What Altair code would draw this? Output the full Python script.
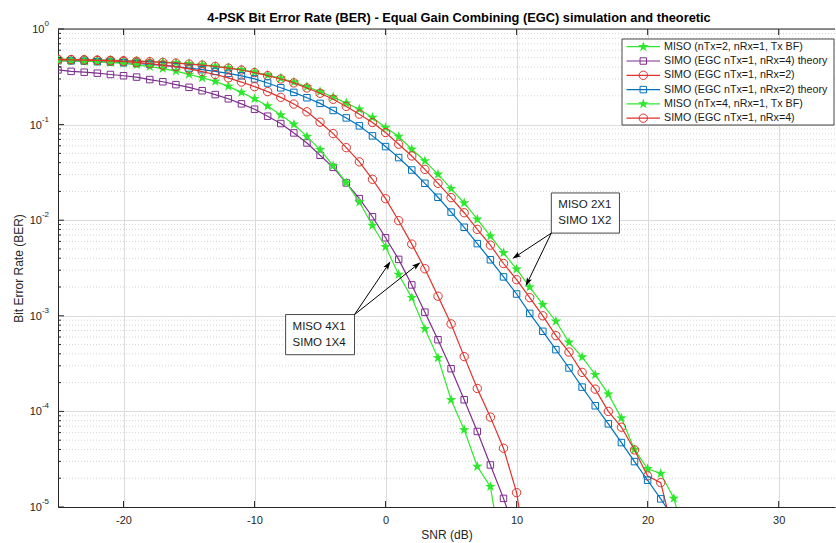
import math
import altair as alt
import pandas as pd

# ---------------------------------------------------------------- data
SNR_START = -25  # every series starts at -25 dB, one point per dB

# log10(BER)
miso_tx2 = [-0.316, -0.318, -0.320, -0.323, -0.326, -0.330, -0.335, -0.340, -0.347, -0.354,
            -0.364, -0.375, -0.389, -0.406, -0.426, -0.451, -0.481, -0.515, -0.555, -0.604,
            -0.655, -0.712, -0.775, -0.839, -0.926, -1.031, -1.125, -1.258, -1.380, -1.520,
            -1.670, -1.820, -1.990, -2.166, -2.341, -2.512, -2.700, -2.883, -3.057, -3.277,
            -3.431, -3.616, -3.819, -4.070, -4.400, -4.600, -4.650, -4.910, -5.400]
simo_rx4_theory = [-0.428, -0.443, -0.452, -0.462, -0.476, -0.489, -0.503, -0.529, -0.552, -0.582,
                   -0.610, -0.646, -0.686, -0.730, -0.783, -0.839, -0.912, -0.989, -1.087, -1.192,
                   -1.321, -1.447, -1.610, -1.775, -1.964, -2.184, -2.410, -2.677, -2.962, -3.250,
                   -3.553, -3.878, -4.210, -4.560, -4.910, -5.300]
simo_rx2 = [-0.318, -0.320, -0.322, -0.325, -0.328, -0.332, -0.337, -0.342, -0.349, -0.357,
            -0.367, -0.378, -0.392, -0.409, -0.429, -0.456, -0.488, -0.523, -0.564, -0.617,
            -0.672, -0.735, -0.810, -0.891, -0.978, -1.083, -1.205, -1.328, -1.468, -1.614,
            -1.764, -1.922, -2.096, -2.261, -2.453, -2.622, -2.810, -3.000, -3.208, -3.379,
            -3.592, -3.767, -4.000, -4.165, -4.403, -4.675, -4.745, -5.300]
simo_rx2_theory = [-0.330, -0.333, -0.337, -0.342, -0.347, -0.353, -0.361, -0.370, -0.381, -0.394,
                   -0.409, -0.425, -0.444, -0.464, -0.490, -0.522, -0.565, -0.615, -0.663, -0.719,
                   -0.778, -0.852, -0.930, -1.013, -1.118, -1.230, -1.345, -1.475, -1.614, -1.760,
                   -1.915, -2.074, -2.245, -2.414, -2.593, -2.772, -2.975, -3.162, -3.354, -3.546,
                   -3.746, -3.941, -4.130, -4.326, -4.525, -4.720, -4.915, -5.120]
miso_tx4 = [-0.330, -0.333, -0.337, -0.342, -0.350, -0.360, -0.375, -0.393, -0.415, -0.440,
            -0.475, -0.510, -0.548, -0.600, -0.663, -0.729, -0.805, -0.900, -0.997, -1.126,
            -1.262, -1.430, -1.607, -1.810, -2.055, -2.278, -2.568, -2.810, -3.137, -3.440,
            -3.878, -4.193, -4.577, -4.787, -5.600]
simo_rx4 = [-0.320, -0.322, -0.325, -0.329, -0.334, -0.341, -0.350, -0.362, -0.377, -0.394,
            -0.418, -0.446, -0.476, -0.512, -0.555, -0.603, -0.655, -0.715, -0.785, -0.866,
            -0.975, -1.094, -1.241, -1.390, -1.572, -1.775, -2.005, -2.250, -2.508, -2.795,
            -3.085, -3.427, -3.760, -4.060, -4.385, -4.850, -5.700]

series_names = ["MISO (nTx=2, nRx=1, Tx BF)",
                "SIMO (EGC nTx=1, nRx=4) theory",
                "SIMO (EGC nTx=1, nRx=2)",
                "SIMO (EGC nTx=1, nRx=2) theory",
                "MISO (nTx=4, nRx=1, Tx BF)",
                "SIMO (EGC nTx=1, nRx=4)"]
series_values = [miso_tx2, simo_rx4_theory, simo_rx2, simo_rx2_theory, miso_tx4, simo_rx4]

x_ticks = [-20, -10, 0, 10, 20, 30]
y_decade_exps = [0, -1, -2, -3, -4, -5]

annotation_labels = [["MISO 2X1", "SIMO 1X2"], ["MISO 4X1", "SIMO 1X4"]]
# (snr left, snr right, log10 BER top, log10 BER bottom)
annotation_boxes = [(12.65, 17.85, -1.715, -2.135), (-7.63, -2.37, -2.987, -3.407)]
# (start snr, start log10 BER, tip snr, tip log10 BER)
annotation_arrows = [(12.65, -2.135, 9.67, -2.404), (12.65, -2.135, 10.69, -2.691),
                     (-2.37, -2.987, 0.38, -2.429), (-2.37, -2.987, 2.67, -2.439)]

TITLE = "4-PSK Bit Error Rate (BER) - Equal Gain Combining (EGC) simulation and theoretic"

# ---------------------------------------------------------------- style / layout
FONT = "Liberation Sans"
GREEN, RED, PURPLE, BLUE = "#2ee82e", "#e0312b", "#7e2f8e", "#0072bd"
AX = "#262626"
series_colors = [GREEN, PURPLE, RED, BLUE, GREEN, RED]
series_shapes = ["star", "square", "circle", "square", "star", "circle"]


def star_path(r_in=0.40):
    pts = []
    for k in range(10):
        a = math.radians(-90 + 36 * k)
        r = 1.0 if k % 2 == 0 else r_in
        pts.append(f"{r * math.cos(a):.3f},{r * math.sin(a):.3f}")
    return "M" + "L".join(pts) + "Z"


STAR = star_path()
HEAD = "M0,-1L0.55,0.75L0,0.4L-0.55,0.75Z"

W, H = 777, 478
X0, X1 = -25.0, 34.3


def snr_to_px(s):
    return (s - X0) / (X1 - X0) * W


def px_to_snr(p):
    return X0 + p / W * (X1 - X0)


def exp_to_py(e):
    return -e / 5.0 * H


def py_to_ber(p):
    return 10 ** (-5.0 * p / H)


xscale = alt.Scale(domain=[X0, X1], nice=False, zero=False)
yscale = alt.Scale(type="log", domain=[1e-5, 1], nice=False)

x_axis = alt.Axis(values=x_ticks, labelExpr="toString(datum.value)", grid=True,
                  gridColor="#dcdcdc", gridWidth=1, ticks=False, domainColor=AX, domainWidth=1,
                  labelFont=FONT, labelFontSize=11, labelColor=AX, labelPadding=7,
                  title="SNR (dB)", titleFont=FONT, titleFontSize=12, titleFontWeight="normal",
                  titleColor=AX, titlePadding=4)
y_axis = alt.Axis(values=[10 ** e for e in y_decade_exps], grid=True, gridColor="#dcdcdc",
                  gridWidth=1, labels=False, ticks=False, domainColor=AX,
                  domainWidth=1, title="Bit Error Rate (BER)", titleFont=FONT, titleFontSize=12,
                  titleFontWeight="normal", titleColor=AX, titlePadding=33)


def X(field="snr"):
    return alt.X(f"{field}:Q", scale=xscale, axis=x_axis)


def Y(field="ber"):
    return alt.Y(f"{field}:Q", scale=yscale, axis=y_axis)


def marker(data, shape, col):
    if shape == "star":
        return alt.Chart(data).mark_point(shape=STAR, filled=True, color=col, size=120,
                                          opacity=1, clip=True)
    if shape == "circle":
        return alt.Chart(data).mark_point(shape="circle", filled=False, color=col, size=70,
                                          strokeWidth=1, opacity=1, clip=True)
    return alt.Chart(data).mark_point(shape="square", filled=False, color=col, size=42,
                                      strokeWidth=1, opacity=1, clip=True)


layers = []

# data series
for name, vals, col, shp in zip(series_names, series_values, series_colors, series_shapes):
    df = pd.DataFrame({"snr": [SNR_START + i for i in range(len(vals))],
                       "ber": [10 ** v for v in vals]})
    layers.append(alt.Chart(df).mark_line(color=col, strokeWidth=1.2, clip=True)
                  .encode(x=X(), y=Y()))
    pts = pd.DataFrame({"snr": [SNR_START + i for i, v in enumerate(vals) if v >= -5.0],
                        "ber": [10 ** v for v in vals if v >= -5.0]})
    layers.append(marker(pts, shp, col).encode(x=X(), y=Y()))

# minor log grid (dotted)
minor = [m * 10 ** e for e in range(-5, 0) for m in range(2, 10)]
minor_df = pd.DataFrame({"ber": minor})
grid_layer = alt.Chart(minor_df).mark_rule(color="#c8c8c8", strokeWidth=0.8,
                                           strokeDash=[1, 2]).encode(y=Y())

# annotation boxes and texts
box_rows, txt_rows = [], []
for (x0, x1, e0, e1), lines in zip(annotation_boxes, annotation_labels):
    box_rows.append({"snr": x0, "snr2": x1, "ber": 10 ** e0, "ber2": 10 ** e1})
    left_px = snr_to_px(x0) + 7
    top_py = exp_to_py(e0)
    for k, t in enumerate(lines):
        txt_rows.append({"snr": px_to_snr(left_px), "ber": py_to_ber(top_py + 12 + 16 * k),
                         "t": t})
layers.append(alt.Chart(pd.DataFrame(box_rows)).mark_rect(fill="white", stroke="#333333",
                                                          strokeWidth=0.9)
              .encode(x=X(), x2=alt.X2("snr2"), y=Y(), y2=alt.Y2("ber2")))
layers.append(alt.Chart(pd.DataFrame(txt_rows)).mark_text(align="left", baseline="middle",
                                                          font=FONT, fontSize=11.5,
                                                          color="#1a1a1a")
              .encode(x=X(), y=Y(), text="t:N"))

# arrows
HEAD_SIZE = 100
back = 0.5 * math.sqrt(HEAD_SIZE)
line_rows = []
for sx, se, tx, te in annotation_arrows:
    sxp, syp = snr_to_px(sx), exp_to_py(se)
    txp, typ = snr_to_px(tx), exp_to_py(te)
    dx, dy = txp - sxp, typ - syp
    n = math.hypot(dx, dy)
    ux, uy = dx / n, dy / n
    cxp, cyp = txp - back * ux, typ - back * uy
    ang = math.degrees(math.atan2(ux, -uy)) % 360
    line_rows.append({"snr": sx, "ber": 10 ** se, "snr2": px_to_snr(cxp),
                      "ber2": py_to_ber(cyp)})
    head = pd.DataFrame([{"snr": px_to_snr(cxp), "ber": py_to_ber(cyp)}])
    layers.append(alt.Chart(head).mark_point(shape=HEAD, filled=True, color="black",
                                             size=HEAD_SIZE, angle=round(ang, 2), opacity=1)
                  .encode(x=X(), y=Y()))
layers.append(alt.Chart(pd.DataFrame(line_rows)).mark_rule(color="black", strokeWidth=1)
              .encode(x=X(), x2=alt.X2("snr2"), y=Y(), y2=alt.Y2("ber2")))

# legend (inside the axes, top right)
LBOX = (564, 776, 10, 96)
layers.append(alt.Chart(pd.DataFrame([{"snr": px_to_snr(LBOX[0]), "snr2": px_to_snr(LBOX[1]),
                                       "ber": py_to_ber(LBOX[2]), "ber2": py_to_ber(LBOX[3])}]))
              .mark_rect(fill="white", stroke="#333333", strokeWidth=0.9)
              .encode(x=X(), x2=alt.X2("snr2"), y=Y(), y2=alt.Y2("ber2")))
for i, (name, col, shp) in enumerate(zip(series_names, series_colors, series_shapes)):
    ry = 17.7 + 14.3 * i
    row = pd.DataFrame([{"snr": px_to_snr(568.5), "snr2": px_to_snr(602),
                         "mid": px_to_snr(585.3), "tx": px_to_snr(606),
                         "ber": py_to_ber(ry), "t": name}])
    layers.append(alt.Chart(row).mark_rule(color=col, strokeWidth=1.2)
                  .encode(x=X(), x2=alt.X2("snr2"), y=Y()))
    layers.append(marker(row, shp, col).encode(x=X("mid"), y=Y()))
    layers.append(alt.Chart(row).mark_text(align="left", baseline="middle", font=FONT,
                                           fontSize=10.7, color="#1a1a1a")
                  .encode(x=X("tx"), y=Y(), text="t:N"))

# inward ticks and top frame
xt_df = pd.DataFrame({"snr": x_ticks})
layers.append(alt.Chart(xt_df).mark_rule(color=AX, strokeWidth=1)
              .encode(x=X(), y=alt.value(H), y2=alt.value(H - 6)))
layers.append(alt.Chart(xt_df).mark_rule(color=AX, strokeWidth=1)
              .encode(x=X(), y=alt.value(0), y2=alt.value(6)))
yt_df = pd.DataFrame({"ber": [10 ** e for e in y_decade_exps]})
layers.append(alt.Chart(yt_df).mark_rule(color=AX, strokeWidth=1)
              .encode(y=Y(), x=alt.value(0), x2=alt.value(6)))
layers.append(alt.Chart(minor_df).mark_rule(color=AX, strokeWidth=1)
              .encode(y=Y(), x=alt.value(0), x2=alt.value(3)))
top_df = pd.DataFrame({"ber": [1.0]})
layers.append(alt.Chart(top_df).mark_rule(color=AX, strokeWidth=1)
              .encode(y=Y(), x=alt.value(0), x2=alt.value(W)))

# y tick labels 10^k
zero_df = pd.DataFrame({"ber": [1.0], "base": ["10"]})
neg_df = pd.DataFrame({"ber": [10 ** e for e in y_decade_exps if e < 0],
                       "base": ["10"] * (len(y_decade_exps) - 1)})
sup_df = pd.DataFrame({"ber": [10 ** e for e in y_decade_exps],
                       "sup": [str(e) for e in y_decade_exps]})
layers.append(alt.Chart(zero_df)
              .mark_text(align="right", baseline="middle", font=FONT, fontSize=11, color=AX, dy=1)
              .encode(y=Y(), x=alt.value(-13.5), text="base:N"))
layers.append(alt.Chart(neg_df)
              .mark_text(align="right", baseline="middle", font=FONT, fontSize=11, color=AX, dy=1)
              .encode(y=Y(), x=alt.value(-16), text="base:N"))
layers.append(alt.Chart(sup_df)
              .mark_text(align="right", baseline="middle", font=FONT, fontSize=8, color=AX, dy=-5)
              .encode(y=Y(), x=alt.value(-9), text="sup:N"))

# title (drawn as text just above the axes frame)
title_df = pd.DataFrame({"t": [TITLE]})
layers.append(alt.Chart(title_df)
              .mark_text(align="center", baseline="middle", font=FONT, fontSize=12.8,
                         fontWeight="bold", color="black")
              .encode(x=alt.value(401), y=alt.value(-11), text="t:N"))

chart = (alt.layer(grid_layer, *layers)
         .properties(width=W, height=H,
                     autosize=alt.AutoSizeParams(type="none"),
                     padding={"left": 58, "top": 29, "right": 1, "bottom": 36})
         .configure_view(stroke=None))

chart.save("out.html", embed_options={"renderer": "svg", "actions": False})
